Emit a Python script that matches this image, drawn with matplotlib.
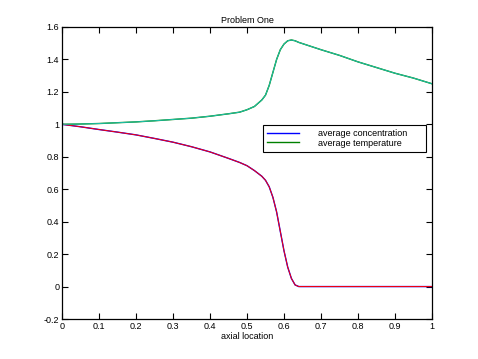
import matplotlib
matplotlib.use("Agg")
import matplotlib.pyplot as plt
import numpy as np

# axial location samples
x = [0.0, 0.05, 0.1, 0.15, 0.2, 0.25, 0.3, 0.35, 0.4, 0.45, 0.48, 0.5, 0.52, 0.54,
     0.55, 0.56, 0.57, 0.58, 0.59, 0.6, 0.61, 0.62, 0.63, 0.64, 0.66, 0.7, 0.75,
     0.8, 0.85, 0.9, 0.95, 1.0]
# average concentration
conc = [1.0, 0.985, 0.968, 0.952, 0.935, 0.913, 0.89, 0.862, 0.83, 0.79, 0.765, 0.745, 0.715, 0.68,
        0.655, 0.615, 0.55, 0.46, 0.34, 0.22, 0.12, 0.05, 0.01, 0.0, 0.0, 0.0, 0.0,
        0.0, 0.0, 0.0, 0.0, 0.0]
# average temperature
temp = [1.0, 1.002, 1.005, 1.01, 1.015, 1.022, 1.03, 1.038, 1.05, 1.065, 1.075, 1.09, 1.11, 1.15,
        1.18, 1.24, 1.32, 1.40, 1.46, 1.495, 1.515, 1.52, 1.515, 1.505, 1.49, 1.46, 1.425,
        1.385, 1.35, 1.315, 1.285, 1.25]

xticks = [0, 0.1, 0.2, 0.3, 0.4, 0.5, 0.6, 0.7, 0.8, 0.9, 1]
xticklabels = ['0', '0.1', '0.2', '0.3', '0.4', '0.5', '0.6', '0.7', '0.8', '0.9', '1']
yticks = [-0.2, 0, 0.2, 0.4, 0.6, 0.8, 1, 1.2, 1.4, 1.6]
yticklabels = ['-0.2', '0', '0.2', '0.4', '0.6', '0.8', '1', '1.2', '1.4', '1.6']

plt.rcParams['font.family'] = ['Liberation Sans', 'DejaVu Sans']
fig = plt.figure(figsize=(4.78, 3.59), dpi=100)
ax = fig.add_axes([0.1297, 0.1114, 0.7741, 0.8134])

l1, = ax.plot(x, conc, color='#0000ff', lw=1.0, label='average concentration')
l2, = ax.plot(x, temp, color='#008000', lw=1.0, label='average temperature')
ax.plot(x, conc, color='#ff0000', lw=0.7)
ax.plot(x, temp, color='#20c0b0', lw=0.7)

ax.set_xlim(0, 1)
ax.set_ylim(-0.2, 1.6)
ax.set_xticks(xticks)
ax.set_xticklabels(xticklabels)
ax.set_yticks(yticks)
ax.set_yticklabels(yticklabels)
ax.tick_params(direction='in', top=True, right=True, length=4, width=0.8,
               labelsize=6.5, pad=2)
for s in ax.spines.values():
    s.set_linewidth(0.9)
ax.set_title('Problem One', fontsize=6.5, pad=3)
ax.set_xlabel('axial location', fontsize=6.5, labelpad=1)

leg = ax.legend(handles=[l1, l2], loc='upper left',
                bbox_to_anchor=(0.543, 0.579, 0.441, 0.085), mode='expand',
                fontsize=6.5, frameon=True, fancybox=False, edgecolor='black',
                framealpha=1, handlelength=3.6, handletextpad=2.0,
                borderpad=0.45, labelspacing=0.05, borderaxespad=0)
leg.get_frame().set_linewidth(0.8)

fig.savefig('out.png', dpi=100)
